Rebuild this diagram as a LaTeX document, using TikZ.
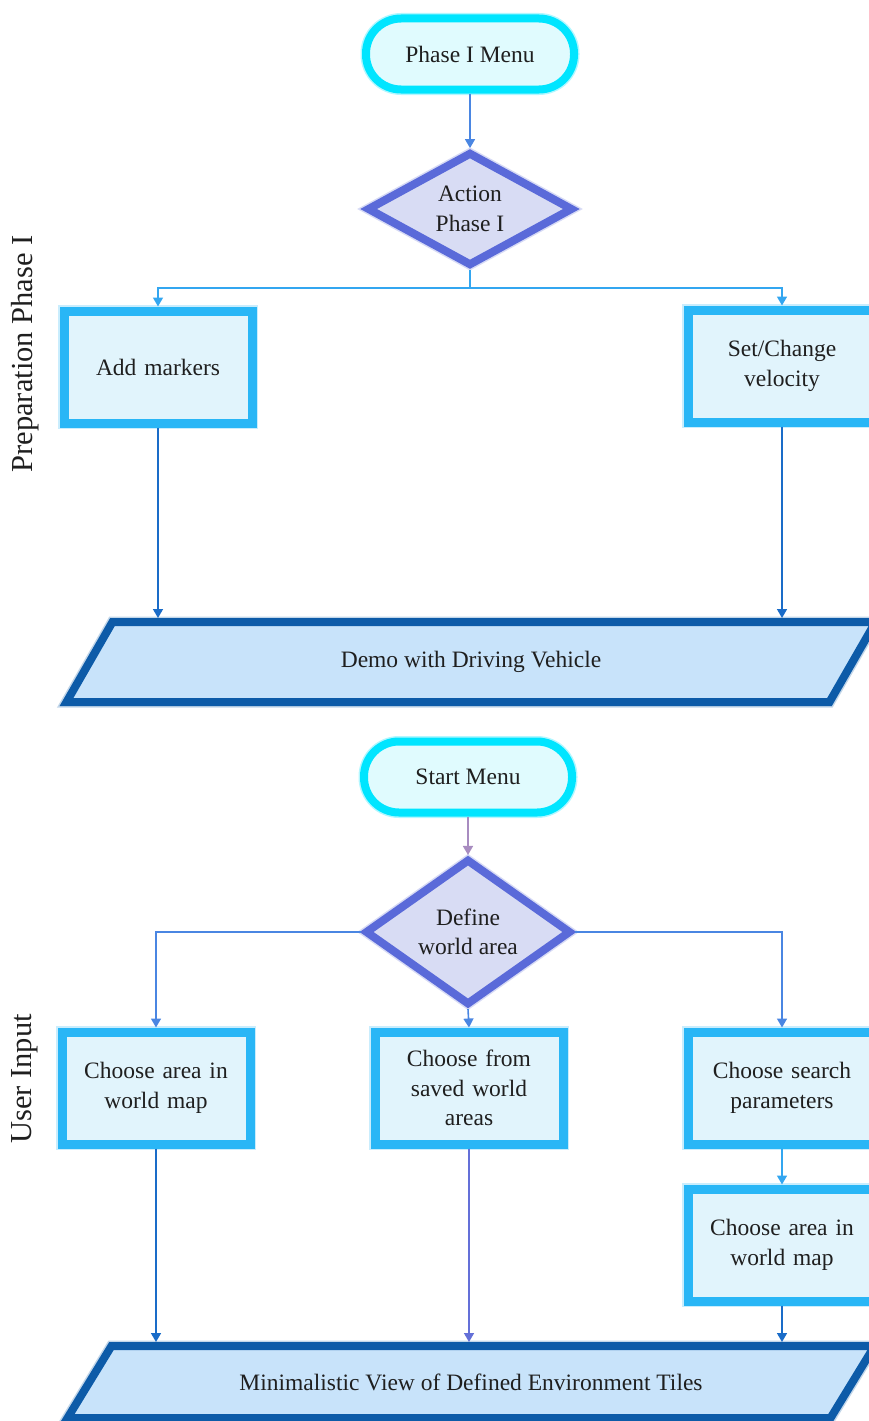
\documentclass[tikz,border=0pt]{standalone}
\usepackage{fontspec}
\setmainfont{Liberation Serif}
\usetikzlibrary{shapes.geometric,arrows.meta}
\definecolor{termline}{HTML}{00E5FF}
\definecolor{termfill}{HTML}{E0FBFE}
\definecolor{decline}{HTML}{5A6AD9}
\definecolor{decfill}{HTML}{D8DCF4}
\definecolor{procline}{HTML}{29B6F6}
\definecolor{procfill}{HTML}{E1F4FC}
\definecolor{ioline}{HTML}{0D5BA8}
\definecolor{iofill}{HTML}{C8E3FA}
\definecolor{lnlight}{HTML}{33A6F0}
\definecolor{lnmid}{HTML}{4A86E2}
\definecolor{lndark}{HTML}{1A6CC8}
\definecolor{lnpurple}{HTML}{6470D8}
\definecolor{lnorange}{HTML}{A88CC0}
\begin{document}
\begin{tikzpicture}[x=1pt, y=-1pt,
      every node/.style={font=\fontsize{23.5}{29.5}\selectfont, text=black!88},
      term/.style={draw=termline, fill=termfill, line width=8pt, rounded corners=35pt,
        minimum width=208pt, minimum height=71pt,
        preaction={draw=termline!30, line width=11pt}},
      decision/.style={diamond, draw=decline, fill=decfill, line width=8pt, align=center,
        minimum width=206pt, minimum height=103pt, inner sep=0pt,
        preaction={draw=decline!25, line width=11pt}},
      proc/.style={draw=procline, fill=procfill, line width=9pt, align=center,
        minimum width=188pt, minimum height=112pt, text width=176pt, inner sep=2pt,
        preaction={draw=procline!25, line width=12pt}},
      io/.style={outer sep=0pt, inner sep=0pt, minimum width=763pt},
      iobox/.style={draw=ioline, fill=iofill, line width=8pt,
        preaction={draw=ioline!25, line width=11pt}},
      side/.style={rotate=90, font=\fontsize{30.5}{36}\selectfont},
      conn/.style={line width=1.6pt, -{Triangle[length=9pt, width=10pt]}},
    ]
    \useasboundingbox (0,0) rectangle (869,1421);

    % preparation phase
    \node[term] (t1) at (470, 54) {Phase I Menu};
    \node[decision] (d1) at (470, 209) {Action\\Phase I};
    \coordinate (j1) at (470, 288);
    \node[proc] (p1) at (158, 367) {Add markers};
    \node[proc] (p2) at (782, 366) {Set/Change\\velocity};
    \node[io, minimum height=80pt] (io1) at (471, 662) {};
    \draw[iobox] ([xshift=23pt]io1.north west) -- ([xshift=23pt]io1.north east)
      -- ([xshift=-23pt]io1.south east) -- ([xshift=-23pt]io1.south west) -- cycle;
    \node at (io1) {Demo with Driving Vehicle};
    \node[side] (s1) at (25, 354) {Preparation Phase I};

    \draw[conn, draw=lnmid] (t1) -- (d1);
    \draw[conn, draw=lnlight] (d1.south) -- (j1) -| (p1.north);
    \draw[conn, draw=lnlight] (j1) -| (p2.north);
    \draw[conn, draw=lndark, shorten >=4pt] (p1.south) -- (p1.south |- io1.north);
    \draw[conn, draw=lndark, shorten >=4pt] (p2.south) -- (p2.south |- io1.north);

    % user input
    \node[term] (t2) at (468, 777) {Start Menu};
    \node[decision] (d2) at (468, 932) {Define\\world area};
    \node[proc] (p3) at (156, 1088) {Choose area in\\world map};
    \node[proc] (p4) at (469, 1088) {Choose from\\saved world\\areas};
    \node[proc] (p5) at (782, 1088) {Choose search\\parameters};
    \node[proc] (p6) at (782, 1245) {Choose area in\\world map};
    \node[io, minimum height=72pt] (io2) at (471, 1382) {};
    \draw[iobox] ([xshift=22pt]io2.north west) -- ([xshift=22pt]io2.north east)
      -- ([xshift=-22pt]io2.south east) -- ([xshift=-22pt]io2.south west) -- cycle;
    \node at (io2) {Minimalistic View of Defined Environment Tiles};
    \node[side] (s2) at (25, 1079) {User Input};

    \draw[conn, draw=lnorange] (t2) -- (d2);
    \draw[conn, draw=lnmid] (d2.west) -| (p3.north);
    \draw[conn, draw=lnmid] (d2.south) -- (p4.north);
    \draw[conn, draw=lnmid] (d2.east) -| (p5.north);
    \draw[conn, draw=lnlight] (p5) -- (p6);
    \draw[conn, draw=lndark, shorten >=4pt] (p3.south) -- (p3.south |- io2.north);
    \draw[conn, draw=lnpurple, shorten >=4pt] (p4.south) -- (p4.south |- io2.north);
    \draw[conn, draw=lndark, shorten >=4pt] (p6.south) -- (p6.south |- io2.north);
  \end{tikzpicture}
\end{document}
